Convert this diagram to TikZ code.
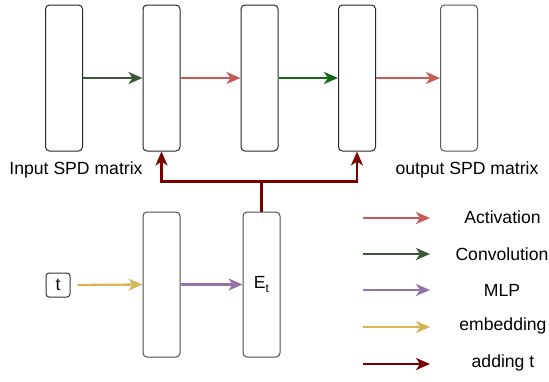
\documentclass[tikz,border=0pt]{standalone}
\usepackage{fontspec}
\setmainfont{Liberation Sans}
\usetikzlibrary{arrows.meta}
\definecolor{actred}{HTML}{C85A58}
\definecolor{convgreen}{HTML}{3A5A35}
\definecolor{convgreenb}{HTML}{126A12}
\definecolor{mlppurple}{HTML}{9673A6}
\definecolor{embyellow}{HTML}{D6B656}
\definecolor{addred}{HTML}{7A0000}
\tikzset{
  layer/.style={draw=black!85, line width=1pt, rounded corners=4pt, minimum width=37pt, minimum height=146pt, inner sep=0pt},
  blayer/.style={layer, draw=black!70, minimum height=145pt},
  flow/.style={line width=2.3pt, -{Stealth[length=14pt,width=12pt,inset=4pt]}},
  lbl/.style={font=\fontsize{17.6}{21}\selectfont, inner sep=0pt}
}
\begin{document}
\begin{tikzpicture}[x=1pt,y=-1pt]
\useasboundingbox (0,0) rectangle (549,381);
% top row of SPD layers
\node[layer] (l1) at (64,78) {};
\node[layer] (l2) at (161.5,78) {};
\node[layer] (l3) at (259.5,78) {};
\node[layer] (l4) at (357,78) {};
\node[layer, draw=black!65] (l5) at (459,78) {};
\node[lbl] (inlbl) at (76,170) {Input SPD matrix};
\node[lbl] (outlbl) at (467,170) {output SPD matrix};
\draw[flow, convgreen] (l1.east) -- (l2.west);
\draw[flow, actred] (l2.east) -- (l3.west);
\draw[flow, convgreenb] (l3.east) -- (l4.west);
\draw[flow, actred] (l4.east) -- (l5.west);
% time embedding branch
\node[draw=black!80, line width=1pt, rounded corners=3pt, minimum width=24pt, minimum height=24pt, inner sep=0pt, font=\fontsize{17.6}{21}\selectfont] (t) at (58,285) {t};
\node[blayer] (emb) at (161.5,284.5) {};
\node[blayer, font=\fontsize{17.6}{21}\selectfont] (et) at (261.5,284.5) {E\raisebox{-4pt}{\fontsize{12}{12}\selectfont t}};
\draw[flow, embyellow] ([xshift=7pt]t.east) -- (emb.west);
\draw[flow, mlppurple] (emb.east) -- (et.west);
% adding t to the layers
\coordinate (split) at (261.5,181.5);
\draw[line width=2.3pt, addred] (et.north) -- (split);
\draw[flow, addred] (split) -| (l2.south);
\draw[flow, addred] (split) -| (l4.south);
% legend
\coordinate (a1) at (363,218); \coordinate (b1) at (430,218);
\coordinate (a2) at (363,254); \coordinate (b2) at (430,254);
\coordinate (a3) at (363,290); \coordinate (b3) at (430,290);
\coordinate (a4) at (363,327); \coordinate (b4) at (430,327);
\coordinate (a5) at (363,364); \coordinate (b5) at (430,364);
\draw[flow, actred] (a1) -- (b1);
\draw[flow, convgreen] (a2) -- (b2);
\draw[flow, mlppurple] (a3) -- (b3);
\draw[flow, embyellow] (a4) -- (b4);
\draw[flow, addred] (a5) -- (b5);
\node[lbl] (t1) at (502.5,217) {Activation};
\node[lbl] (t2) at (502,254) {Convolution};
\node[lbl] (t3) at (502,290) {MLP};
\node[lbl] (t4) at (503,326) {embedding};
\node[lbl] (t5) at (503,363) {adding t};
\end{tikzpicture}
\end{document}
